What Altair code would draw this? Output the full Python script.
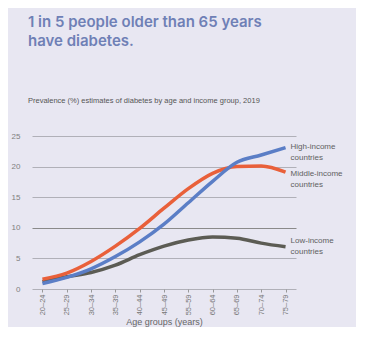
import altair as alt
import pandas as pd

ages = ["20–24", "25–29", "30–34", "35–39", "40–44", "45–49",
        "55–59", "60–64", "65–69", "70–74", "75–79"]
high = [0.9, 1.9, 3.3, 5.3, 7.7, 10.6, 14.1, 17.6, 20.7, 21.9, 23.1]
middle = [1.6, 2.6, 4.5, 7.0, 9.9, 13.2, 16.4, 18.9, 20.0, 20.1, 19.1]
low = [1.2, 2.0, 2.7, 3.9, 5.6, 7.0, 8.0, 8.5, 8.3, 7.5, 6.9]
y_ticks = [0, 5, 10, 15, 20, 25]
series = ["Low-income countries", "Middle-income countries", "High-income countries"]
labels = ["Low-income\ncountries", "Middle-income\ncountries", "High-income\ncountries"]
colors = ["#5c5c54", "#e9603a", "#5b7ec6"]

rows = []
for name, vals in zip(series, [low, middle, high]):
    for a, v in zip(ages, vals):
        rows.append({"age": a, "value": v, "series": name})
df = pd.DataFrame(rows)

last = pd.DataFrame({
    "age": [ages[-1]] * 3,
    "value": [low[-1], middle[-1], high[-1]],
    "series": series,
    "label": labels,
})

xscale = alt.Scale(type="point", padding=0.43)
yscale = alt.Scale(domain=[0, 25], nice=False, zero=True)

x = alt.X("age:N", sort=ages, scale=xscale,
          axis=alt.Axis(title="Age groups (years)", labelAngle=-90, labelFontSize=7.5,
                        labelColor="#777777", labelPadding=2, tickSize=3, tickColor="#999999",
                        domain=False, titleFontSize=9, titleFontWeight="normal",
                        titleColor="#666666", titlePadding=3, labelFont="Liberation Sans",
                        titleFont="Liberation Sans", labelOverlap=False))
y = alt.Y("value:Q", scale=yscale,
          axis=alt.Axis(title=None, values=y_ticks, labelFontSize=8,
                        labelColor="#808080", ticks=False, domain=False, labelPadding=12,
                        labelFont="Liberation Sans", labelOverlap=False,
                        gridColor={"condition": {"test": "datum.value === 10", "value": "#8a8a8a"},
                                   "value": "#b0b0b8"},
                        gridWidth=1))

color = alt.Color("series:N", scale=alt.Scale(domain=series, range=colors), legend=None)

lines = alt.Chart(df).mark_line(strokeWidth=3.5, interpolate="monotone").encode(
    x=x, y=y, color=color, order=alt.Order("series:N"))

dys = {"Low-income countries": -6, "Middle-income countries": 2, "High-income countries": -1}
texts = []
for s in series:
    texts.append(
        alt.Chart(last).transform_filter(alt.datum.series == s).mark_text(
            align="left", baseline="middle", dx=5, dy=dys[s], fontSize=8, lineHeight=11,
            lineBreak="\n", color="#5f5f5f", font="Liberation Sans"
        ).encode(x=x, y=y, text="label:N")
    )

chart = alt.layer(lines, *texts).properties(
    width=264, height=153,
    autosize=alt.AutoSizeParams(type="none"),
    padding={"left": 24, "top": 128, "right": 60, "bottom": 38},
    background="#e8e7f2",
    title=alt.TitleParams(
        text=["1 in 5 people older than 65 years", "have diabetes."],
        subtitle="Prevalence (%) estimates of diabetes by age and income group, 2019",
        anchor="start", frame="group", dx=-4, offset=28,
        font="Inter", fontSize=15, fontWeight=600, color="#6f80b6", lineHeight=19,
        subtitleFont="Liberation Sans", subtitleFontSize=7.5, subtitleColor="#555555",
        subtitlePadding=48,
    ),
).configure_view(stroke=None)

chart.save("out.html", embed_options={"renderer": "svg", "actions": False})
